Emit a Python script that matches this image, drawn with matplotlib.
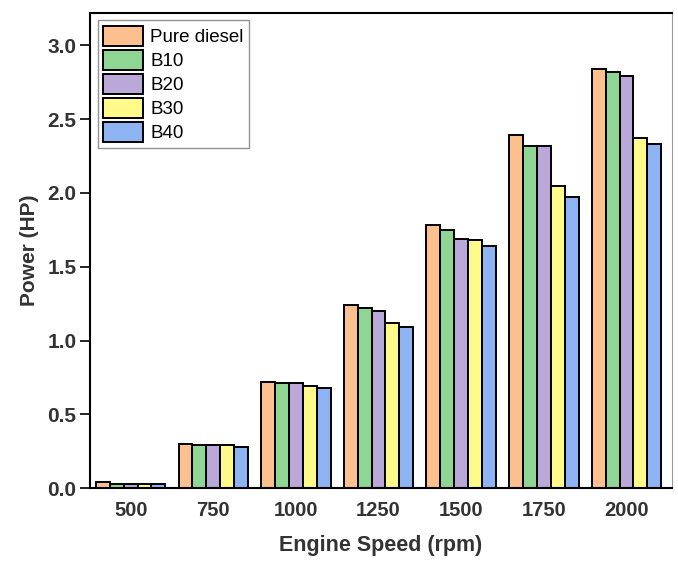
import numpy as np
import matplotlib.pyplot as plt

plt.rcParams['font.family'] = ['Liberation Sans', 'DejaVu Sans']

speeds = ['500', '750', '1000', '1250', '1500', '1750', '2000']
fuels = ['Pure diesel', 'B10', 'B20', 'B30', 'B40']
pure_diesel = [0.04, 0.30, 0.72, 1.24, 1.78, 2.39, 2.84]
b10 = [0.03, 0.29, 0.71, 1.22, 1.75, 2.32, 2.82]
b20 = [0.03, 0.29, 0.71, 1.20, 1.69, 2.32, 2.79]
b30 = [0.03, 0.29, 0.69, 1.12, 1.68, 2.05, 2.37]
b40 = [0.03, 0.28, 0.68, 1.09, 1.64, 1.97, 2.33]
colours = ['#FCC08F', '#8FD694', '#B9A8D8', '#FFFA8A', '#8DB3F2']

series = [pure_diesel, b10, b20, b30, b40]
x = np.arange(len(speeds))
w = 0.168

fig = plt.figure(figsize=(6.78, 5.61), dpi=100)
ax = fig.add_axes([0.133, 0.13, 0.858, 0.847])

for i, vals in enumerate(series):
    ax.bar(x + (i - 2) * w, vals, w, color=colours[i], edgecolor='black',
           linewidth=1.4, label=fuels[i])

ax.set_xlim(-0.49, 6.55)
ax.set_ylim(0, 3.22)
ax.set_xticks(x)
ax.set_xticklabels(speeds)
ax.set_yticks(np.arange(0, 3.01, 0.5))
ax.tick_params(axis='x', length=0, pad=9, labelsize=14.5)
ax.tick_params(axis='y', direction='out', length=7, width=1.2, labelsize=15, pad=3)
for lab in ax.get_xticklabels() + ax.get_yticklabels():
    lab.set_fontweight('bold')
    lab.set_color('#333333')

ax.set_xlabel('Engine Speed (rpm)', fontsize=15.5, fontweight='bold', color='#333333', labelpad=11)
ax.set_ylabel('Power (HP)', fontsize=15, fontweight='bold', color='#333333', labelpad=6)

for s in ['left', 'bottom', 'top']:
    ax.spines[s].set_linewidth(1.5)
ax.spines['right'].set_linewidth(0.8)
ax.spines['right'].set_color('#999999')

leg = ax.legend(loc='upper left', fontsize=13.5, frameon=True, fancybox=False,
                handlelength=2.1, handleheight=1.25, labelspacing=0.2,
                borderpad=0.3, handletextpad=0.4, borderaxespad=0.4)
leg.get_frame().set_edgecolor('#777777')
leg.get_frame().set_linewidth(1.0)

fig.savefig('out.png', dpi=100)
